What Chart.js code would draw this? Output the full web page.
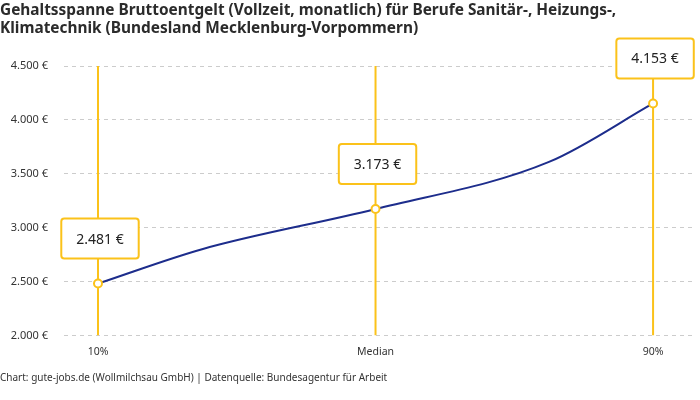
<!DOCTYPE html>
<html lang="de">
<head>
<meta charset="utf-8">
<script src="https://cdn.jsdelivr.net/npm/chart.js@4"></script>
<style>
  html, body { margin: 0; padding: 0; background: #fff; }
  #wrap { width: 700px; height: 400px; }
</style>
</head>
<body>
<div id="wrap"><canvas id="chart"></canvas></div>
<script>
// ── Data ──────────────────────────────────────────────
const percentiles = [10, 25, 50, 75, 90];
const salaries = [2481, 2800, 3173, 3610, 4153];
const markedPercentiles = [10, 50, 90];
const tickLabels = { 10: '10%', 50: 'Median', 90: '90%' };
const yTicks = [2000, 2500, 3000, 3500, 4000, 4500];

const FONT = '"Noto Sans", "Open Sans", sans-serif';
const AMBER = '#fbc21a';
const NAVY = '#1d2d8c';
const TEXT = '#333333';

const euro = v => v.toLocaleString('de-DE') + ' €';

// vertical marker lines, one small dataset each
const markerSets = markedPercentiles.map(p => ({
  data: [{ x: p, y: yTicks[0] }, { x: p, y: yTicks[yTicks.length - 1] }],
  borderColor: AMBER,
  borderWidth: 2,
  pointRadius: 0,
  order: 3,
}));

const curve = {
  data: percentiles.map((p, i) => ({ x: p, y: salaries[i] })),
  borderColor: NAVY,
  borderWidth: 2,
  cubicInterpolationMode: 'monotone',
  pointRadius: percentiles.map(p => markedPercentiles.includes(p) ? 4 : 0),
  pointBackgroundColor: '#fff',
  pointBorderColor: AMBER,
  pointBorderWidth: 2,
  order: 1,
};

// ── Value boxes above the marked points ──────────────
const valueBoxes = {
  id: 'valueBoxes',
  afterDatasetsDraw(chart) {
    const ctx = chart.ctx;
    const meta = chart.getDatasetMeta(markerSets.length);
    ctx.save();
    ctx.font = '14px ' + FONT;
    ctx.textAlign = 'center';
    ctx.textBaseline = 'middle';
    meta.data.forEach((pt, i) => {
      if (!markedPercentiles.includes(percentiles[i])) return;
      const label = euro(salaries[i]);
      const w = ctx.measureText(label).width + 30;
      const h = 40;
      const cx = pt.x + 2;
      const cy = pt.y - 45;
      ctx.beginPath();
      ctx.roundRect(cx - w / 2, cy - h / 2, w, h, 3);
      ctx.fillStyle = '#fff';
      ctx.fill();
      ctx.lineWidth = 2;
      ctx.strokeStyle = AMBER;
      ctx.stroke();
      ctx.fillStyle = '#222';
      ctx.fillText(label, cx, cy + 1);
    });
    ctx.restore();
  },
};

new Chart(document.getElementById('chart'), {
  type: 'line',
  data: { datasets: [...markerSets, curve] },
  options: {
    responsive: true,
    maintainAspectRatio: false,
    animation: false,
    layout: { padding: { left: 0, right: 5, top: 0, bottom: 2 } },
    plugins: {
      legend: { display: false },
      tooltip: { enabled: false },
      title: {
        display: true,
        align: 'start',
        text: [
          'Gehaltsspanne Bruttoentgelt (Vollzeit, monatlich) für Berufe Sanitär-, Heizungs-,',
          'Klimatechnik (Bundesland Mecklenburg-Vorpommern)',
        ],
        color: '#2b2b2b',
        font: { family: FONT, size: 15.4, weight: 'bold', lineHeight: 1.17 },
        padding: { top: 2, bottom: 28 },
      },
      subtitle: {
        display: true,
        position: 'bottom',
        align: 'start',
        text: 'Chart: gute-jobs.de (Wollmilchsau GmbH) | Datenquelle: Bundesagentur für Arbeit',
        color: TEXT,
        font: { family: FONT, size: 10 },
        padding: { top: 12, bottom: 14 },
      },
    },
    scales: {
      x: {
        type: 'linear',
        min: 5.1,
        max: 95.9,
        afterBuildTicks: s => { s.ticks = markedPercentiles.map(v => ({ value: v })); },
        ticks: {
          callback: v => tickLabels[v] || '',
          color: TEXT,
          font: { family: FONT, size: 10.5 },
          padding: 2,
        },
        grid: { display: false },
        border: { display: false },
      },
      y: {
        min: yTicks[0],
        max: yTicks[yTicks.length - 1],
        afterBuildTicks: s => { s.ticks = yTicks.map(v => ({ value: v })); },
        afterFit: s => { s.width = 64; },
        ticks: {
          callback: v => euro(v),
          color: TEXT,
          font: { family: FONT, size: 11 },
          padding: 16,
        },
        grid: { color: '#cccccc', tickLength: 0, drawTicks: false },
        border: { display: false, dash: [4, 4] },
      },
    },
  },
  plugins: [valueBoxes],
});
</script>
</body>
</html>
